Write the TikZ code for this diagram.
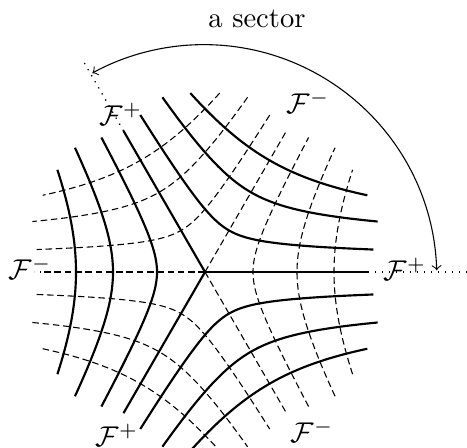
\documentclass[tikz,border=0pt]{standalone}
\usepackage{amsmath}
\begin{document}
\begin{tikzpicture}[x=0.35pt,y=0.35pt,
  leafp/.style={line width=0.75pt},
  leafm/.style={line width=0.38pt, dash pattern=on 2.3pt off 1.3pt},
  extline/.style={line width=0.45pt, dotted},
  sectorarc/.style={line width=0.38pt, <->},
  lab/.style={inner sep=0pt, font=\normalsize}]
\useasboundingbox (-205,-175) rectangle (262,272);
\clip (-205,-175) rectangle (262,272);
% centre and prongs
\coordinate (O) at (0,0);
\coordinate (S0) at (0:163);
\coordinate (S1) at (120:163);
\coordinate (S2) at (240:163);
\coordinate (D0) at (60:164);
\coordinate (D1) at (180:164);
\coordinate (D2) at (300:164);
\coordinate (E0) at (0:290);
\coordinate (E1) at (120:244);
\coordinate (E2) at (180:171);
% leaves of F+ (solid)
\foreach \a in {0,120,240}{
  \draw[leafp] plot[domain=7.6:112.4, samples=90, smooth, variable=\t]
    ({\a+\t}:{48*exp(-0.78*ln(sin(1.5*\t)))});
  \draw[leafp] plot[domain=16.3:103.7, samples=90, smooth, variable=\t]
    ({\a+\t}:{92*exp(-0.76*ln(sin(1.5*\t)))});
  \draw[leafp] plot[domain=25.3:94.7, samples=90, smooth, variable=\t]
    ({\a+\t}:{129*exp(-0.68*ln(sin(1.5*\t)))});
}
% leaves of F- (dashed)
\foreach \a in {-60,60,180}{
  \draw[leafm] plot[domain=7.6:112.4, samples=90, smooth, variable=\t]
    ({\a+\t}:{48*exp(-0.78*ln(sin(1.5*\t)))});
  \draw[leafm] plot[domain=16.3:103.7, samples=90, smooth, variable=\t]
    ({\a+\t}:{92*exp(-0.76*ln(sin(1.5*\t)))});
  \draw[leafm] plot[domain=25.3:94.7, samples=90, smooth, variable=\t]
    ({\a+\t}:{129*exp(-0.68*ln(sin(1.5*\t)))});
}
% prongs
\draw[leafp] (O) -- (S0);
\draw[leafp] (O) -- (S1);
\draw[leafp] (O) -- (S2);
\draw[leafm] (O) -- (D0);
\draw[leafm] (O) -- (D1);
\draw[leafm] (O) -- (D2);
% dotted extensions
\draw[extline] (S0) -- (E0);
\draw[extline] (S1) -- (E1);
\draw[extline] (D1) -- (E2);
% sector arc
\coordinate (AR) at (231.7,1.7);
\draw[sectorarc] (AR) arc[start angle=1.8, end angle=118.6, radius=233];
\node[lab] (sec) at (52,253) {a sector};
% labels
\node[lab] (Fp1) at (-84,158) {$\mathcal{F}^+$};
\node[lab] (Fp2) at (200,3) {$\mathcal{F}^+$};
\node[lab] (Fp3) at (-88,-163) {$\mathcal{F}^+$};
\node[lab] (Fm1) at (103,170) {$\mathcal{F}^-$};
\node[lab] (Fm2) at (-175,4) {$\mathcal{F}^-$};
\node[lab] (Fm3) at (107,-159) {$\mathcal{F}^-$};
\end{tikzpicture}
\end{document}
